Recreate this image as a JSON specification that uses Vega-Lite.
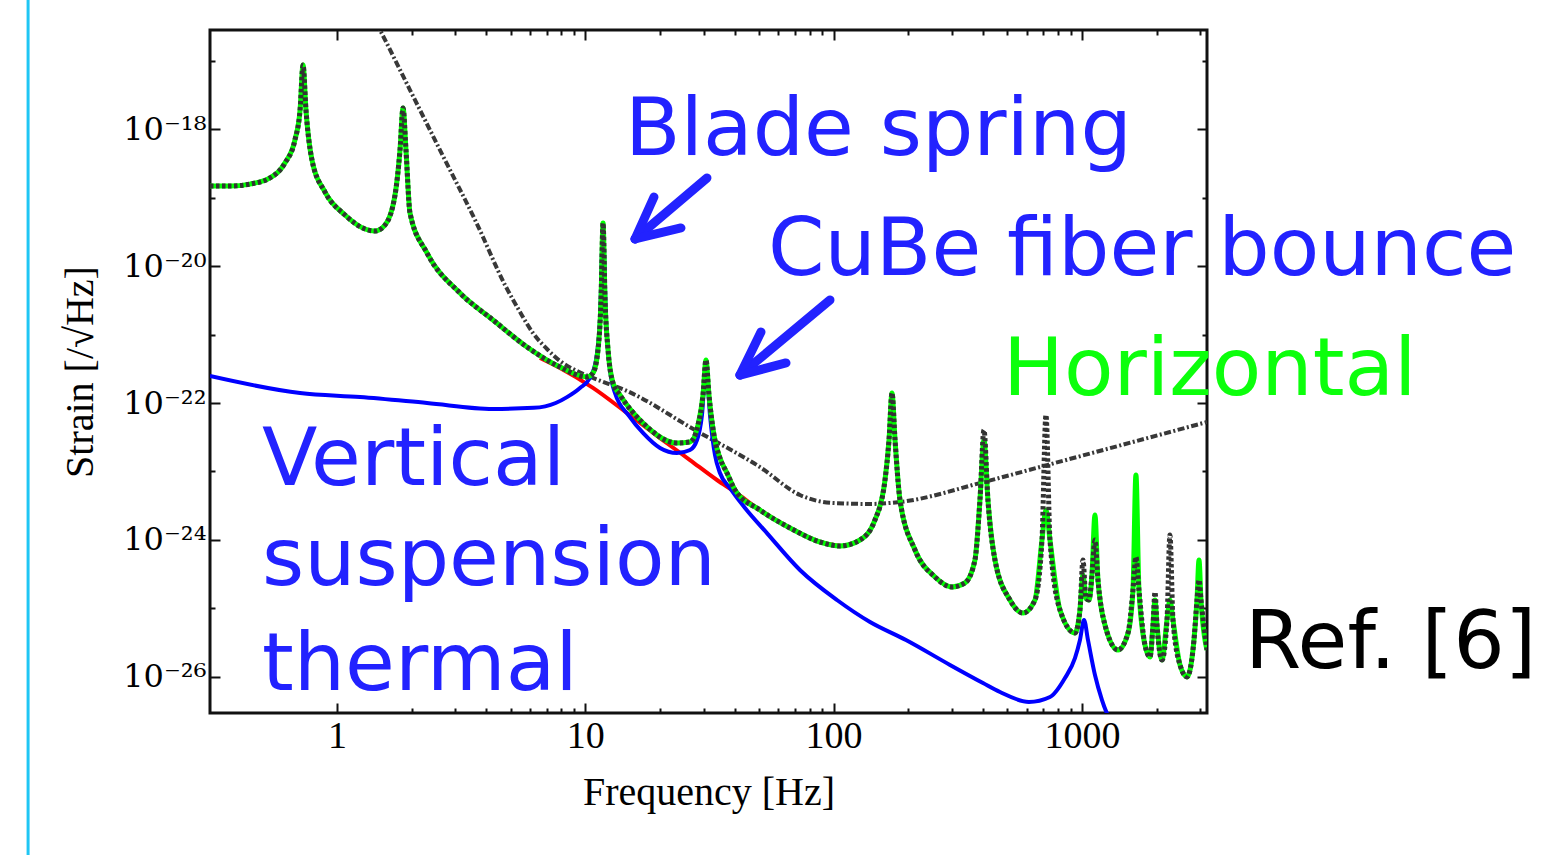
{
  "$schema": "https://vega.github.io/schema/vega-lite/v6.json",
  "width": 997,
  "height": 683,
  "autosize": {"type": "none"},
  "padding": {"left": 210, "top": 30, "right": 350, "bottom": 142},
  "background": "#ffffff",
  "config": {
    "view": {"stroke": "#111111", "strokeWidth": 3},
    "axis": {
      "domain": false,
      "grid": false,
      "tickColor": "#111111",
      "tickWidth": 2,
      "labelFont": "Liberation Serif",
      "labelFontSize": 38,
      "labelColor": "#000000",
      "titleFont": "Liberation Serif",
      "titleFontSize": 40,
      "titleFontWeight": "normal",
      "titleColor": "#000000",
      "labelOverlap": false,
      "labelFlush": false,
      "labelBound": false
    }
  },
  "resolve": {"axis": {"x": "independent", "y": "independent"}},
  "datasets": {
    "H": [
      {"f": 0.308, "g": 1.47e-19, "k": 1.47e-19},
      {"f": 0.371, "g": 1.47e-19, "k": 1.47e-19},
      {"f": 0.446, "g": 1.57e-19, "k": 1.57e-19},
      {"f": 0.537, "g": 1.93e-19, "k": 1.93e-19},
      {"f": 0.617, "g": 3.19e-19, "k": 3.19e-19},
      {"f": 0.677, "g": 6.91e-19, "k": 6.91e-19},
      {"f": 0.71, "g": 1.89e-18, "k": 1.89e-18},
      {"f": 0.73, "g": 8.6e-18, "k": 8.6e-18},
      {"f": 0.75, "g": 1.89e-18, "k": 1.89e-18},
      {"f": 0.793, "g": 3.53e-19, "k": 3.53e-19},
      {"f": 0.895, "g": 1.2e-19, "k": 1.2e-19},
      {"f": 1.077, "g": 5.55e-20, "k": 5.55e-20},
      {"f": 1.297, "g": 3.47e-20, "k": 3.47e-20},
      {"f": 1.422, "g": 3.24e-20, "k": 3.24e-20},
      {"f": 1.561, "g": 3.97e-20, "k": 3.97e-20},
      {"f": 1.713, "g": 1.09e-19, "k": 1.09e-19},
      {"f": 1.794, "g": 4.94e-19, "k": 4.94e-19},
      {"f": 1.845, "g": 2.03e-18, "k": 2.03e-18},
      {"f": 1.896, "g": 4.94e-19, "k": 4.94e-19},
      {"f": 1.968, "g": 5.94e-20, "k": 5.94e-20},
      {"f": 2.304, "g": 1.55e-20, "k": 1.55e-20},
      {"f": 3.129, "g": 4.03e-21, "k": 4.03e-21},
      {"f": 4.249, "g": 1.63e-21, "k": 1.63e-21},
      {"f": 5.824, "g": 6.57e-22, "k": 6.57e-22},
      {"f": 7.909, "g": 3.35e-22, "k": 3.35e-22},
      {"f": 10.16, "g": 2.4e-22, "k": 2.4e-22},
      {"f": 10.74, "g": 2.74e-22, "k": 2.74e-22},
      {"f": 11.25, "g": 5.94e-22, "k": 5.94e-22},
      {"f": 11.57, "g": 3.19e-21, "k": 3.19e-21},
      {"f": 11.79, "g": 4.24e-20, "k": 4.24e-20},
      {"f": 12.01, "g": 3.19e-21, "k": 3.19e-21},
      {"f": 12.35, "g": 5.94e-22, "k": 5.94e-22},
      {"f": 12.93, "g": 1.96e-22, "k": 1.96e-22},
      {"f": 13.8, "g": 1.31e-22, "k": 1.31e-22},
      {"f": 17.08, "g": 5.11e-23, "k": 5.11e-23},
      {"f": 23.4, "g": 2.61e-23, "k": 2.61e-23},
      {"f": 26.41, "g": 2.7e-23, "k": 2.7e-23},
      {"f": 28.44, "g": 4.77e-23, "k": 4.77e-23},
      {"f": 29.79, "g": 1.31e-22, "k": 1.31e-22},
      {"f": 30.63, "g": 4.24e-22, "k": 4.24e-22},
      {"f": 31.49, "g": 1.31e-22, "k": 1.31e-22},
      {"f": 32.98, "g": 3.41e-23, "k": 3.41e-23},
      {"f": 34.87, "g": 1.57e-23, "k": 1.57e-23},
      {"f": 37.22, "g": 9.51e-24, "k": 9.51e-24},
      {"f": 40.09, "g": 5.37e-24, "k": 5.37e-24},
      {"f": 50.53, "g": 2.74e-24, "k": 2.74e-24},
      {"f": 66.74, "g": 1.5e-24, "k": 1.5e-24},
      {"f": 88.15, "g": 9.35e-25, "k": 9.35e-25},
      {"f": 106.1, "g": 8.17e-25, "k": 8.17e-25},
      {"f": 127.8, "g": 1.0e-24, "k": 1.0e-24},
      {"f": 146.8, "g": 1.96e-24, "k": 1.96e-24},
      {"f": 161.1, "g": 7.51e-24, "k": 7.51e-24},
      {"f": 167.2, "g": 2.88e-23, "k": 2.88e-23},
      {"f": 171.9, "g": 1.4e-22, "k": 1.4e-22},
      {"f": 176.8, "g": 2.88e-23, "k": 2.88e-23},
      {"f": 185.1, "g": 3.84e-24, "k": 3.84e-24},
      {"f": 212.8, "g": 7.14e-25, "k": 7.14e-25},
      {"f": 256.1, "g": 2.88e-25, "k": 2.88e-25},
      {"f": 299.9, "g": 2.06e-25, "k": 2.06e-25},
      {"f": 338.1, "g": 2.36e-25, "k": 2.36e-25},
      {"f": 371.0, "g": 5.11e-25, "k": 5.11e-25},
      {"f": 388.6, "g": 3.84e-24, "k": 3.84e-24},
      {"f": 403.3, "g": 2.88e-23, "k": 4.03e-23},
      {"f": 418.5, "g": 3.84e-24, "k": 3.84e-24},
      {"f": 446.7, "g": 5.11e-25, "k": 5.11e-25},
      {"f": 513.3, "g": 1.33e-25, "k": 1.33e-25},
      {"f": 579.1, "g": 8.6e-26, "k": 8.6e-26},
      {"f": 647.4, "g": 1.33e-25, "k": 1.33e-25},
      {"f": 690.7, "g": 1.0e-24, "k": 1.0e-24},
      {"f": 716.8, "g": 2.74e-24, "k": 6.68e-23},
      {"f": 743.9, "g": 1.0e-24, "k": 1.0e-24},
      {"f": 816.3, "g": 9.51e-26, "k": 9.51e-26},
      {"f": 937.9, "g": 4.39e-26, "k": 4.39e-26},
      {"f": 982.4, "g": 9.51e-26, "k": 9.51e-26},
      {"f": 1010, "g": 3.08e-25, "k": 5.11e-25},
      {"f": 1039, "g": 1.4e-25, "k": 1.4e-25},
      {"f": 1068, "g": 1.33e-25, "k": 1.33e-25},
      {"f": 1098, "g": 3.08e-25, "k": 3.08e-25},
      {"f": 1129, "g": 2.32e-24, "k": 1.0e-24},
      {"f": 1161, "g": 2.61e-25, "k": 2.61e-25},
      {"f": 1239, "g": 5.74e-26, "k": 5.74e-26},
      {"f": 1398, "g": 2.48e-26, "k": 2.48e-26},
      {"f": 1534, "g": 4.39e-26, "k": 4.39e-26},
      {"f": 1606, "g": 1.86e-25, "k": 1.86e-25},
      {"f": 1651, "g": 8.89e-24, "k": 5.65e-25},
      {"f": 1698, "g": 1.86e-25, "k": 1.86e-25},
      {"f": 1795, "g": 2.93e-26, "k": 2.93e-26},
      {"f": 1881, "g": 1.96e-26, "k": 1.96e-26},
      {"f": 1934, "g": 5.74e-26, "k": 5.74e-26},
      {"f": 1970, "g": 1.33e-25, "k": 1.74e-25},
      {"f": 2007, "g": 5.74e-26, "k": 5.74e-26},
      {"f": 2102, "g": 1.77e-26, "k": 1.77e-26},
      {"f": 2202, "g": 6.79e-26, "k": 6.79e-26},
      {"f": 2263, "g": 1.33e-25, "k": 1.18e-24},
      {"f": 2328, "g": 6.79e-26, "k": 6.79e-26},
      {"f": 2484, "g": 1.5e-26, "k": 1.5e-26},
      {"f": 2651, "g": 1.0e-26, "k": 1.0e-26},
      {"f": 2828, "g": 3.47e-26, "k": 3.47e-26},
      {"f": 2908, "g": 1.33e-25, "k": 1.33e-25},
      {"f": 2963, "g": 5.11e-25, "k": 2.61e-25},
      {"f": 3018, "g": 1.33e-25, "k": 1.33e-25},
      {"f": 3191, "g": 2.48e-26, "k": 2.48e-26}
    ],
    "red": [
      {"f": 6.57, "h": 4.54e-22},
      {"f": 7.909, "h": 3.24e-22},
      {"f": 10.74, "h": 1.66e-22},
      {"f": 14.72, "h": 7.14e-23},
      {"f": 20.0, "h": 3.08e-23},
      {"f": 26.41, "h": 1.47e-23},
      {"f": 33.92, "h": 7.51e-24},
      {"f": 40.09, "h": 5.02e-24},
      {"f": 50.53, "h": 2.74e-24},
      {"f": 66.74, "h": 1.5e-24},
      {"f": 88.15, "h": 9.35e-25},
      {"f": 106.1, "h": 8.17e-25}
    ],
    "blue": [
      {"f": 0.308, "h": 2.48e-22},
      {"f": 0.71, "h": 1.4e-22},
      {"f": 1.238, "h": 1.22e-22},
      {"f": 2.304, "h": 1.0e-22},
      {"f": 4.249, "h": 8.2e-23},
      {"f": 6.2, "h": 8.5e-23},
      {"f": 7.6, "h": 1.0e-22},
      {"f": 8.44, "h": 1.22e-22},
      {"f": 9.52, "h": 1.66e-22},
      {"f": 10.44, "h": 2.32e-22},
      {"f": 11.04, "h": 4.24e-22},
      {"f": 11.46, "h": 1.63e-21},
      {"f": 11.79, "h": 3.36e-20},
      {"f": 12.12, "h": 1.63e-21},
      {"f": 12.58, "h": 3.03e-22},
      {"f": 13.17, "h": 1.4e-22},
      {"f": 15.0, "h": 6.5e-23},
      {"f": 17.08, "h": 3.65e-23},
      {"f": 20.0, "h": 2.2e-23},
      {"f": 23.4, "h": 1.86e-23},
      {"f": 26.41, "h": 2.06e-23},
      {"f": 28.18, "h": 2.88e-23},
      {"f": 29.51, "h": 6.68e-23},
      {"f": 30.63, "h": 3.59e-22},
      {"f": 31.78, "h": 6.68e-23},
      {"f": 33.29, "h": 1.74e-23},
      {"f": 34.87, "h": 9.51e-24},
      {"f": 38.26, "h": 5.74e-24},
      {"f": 43.98, "h": 2.93e-24},
      {"f": 53.9, "h": 1.26e-24},
      {"f": 73.2, "h": 3.65e-25},
      {"f": 103.2, "h": 1.33e-25},
      {"f": 140.2, "h": 6.35e-26},
      {"f": 195.7, "h": 3.47e-26},
      {"f": 294.3, "h": 1.5e-26},
      {"f": 399.6, "h": 8.17e-27},
      {"f": 468, "h": 6.04e-27},
      {"f": 612, "h": 4.32e-27},
      {"f": 743.9, "h": 5.11e-27},
      {"f": 855, "h": 9.67e-27},
      {"f": 937.9, "h": 1.89e-26},
      {"f": 982.4, "h": 3.47e-26},
      {"f": 1020, "h": 6.79e-26},
      {"f": 1058, "h": 3.47e-26},
      {"f": 1129, "h": 1.07e-26},
      {"f": 1205, "h": 4.61e-27},
      {"f": 1322, "h": 1.99e-27}
    ],
    "dd": [
      {"f": 1.358, "h": 5.28e-17},
      {"f": 1.49, "h": 2.79e-17},
      {"f": 1.968, "h": 3.71e-18},
      {"f": 2.673, "h": 4.03e-19},
      {"f": 3.664, "h": 4.1e-20},
      {"f": 4.75, "h": 5.28e-21},
      {"f": 5.46, "h": 2.13e-21},
      {"f": 6.158, "h": 1.05e-21},
      {"f": 7.01, "h": 6.14e-22},
      {"f": 7.909, "h": 4.1e-22},
      {"f": 9.26, "h": 2.93e-22},
      {"f": 10.74, "h": 2.32e-22},
      {"f": 14.72, "h": 1.5e-22},
      {"f": 27.66, "h": 4.03e-23},
      {"f": 50.53, "h": 1.16e-23},
      {"f": 73.2, "h": 4.54e-24},
      {"f": 99.45, "h": 3.47e-24},
      {"f": 140.2, "h": 3.36e-24},
      {"f": 185.1, "h": 3.59e-24},
      {"f": 403.3, "h": 7.03e-24},
      {"f": 723.6, "h": 1.24e-23},
      {"f": 3191, "h": 5.28e-23}
    ],
    "arrows": [
      {"f": 30.91, "h": 1.93e-19, "f2": 15.86, "h2": 2.48e-20},
      {"f": 18.91, "h": 1.017e-19, "f2": 15.86, "h2": 2.48e-20},
      {"f": 24.29, "h": 3.59e-20, "f2": 15.86, "h2": 2.48e-20},
      {"f": 96.7, "h": 3.19e-21, "f2": 41.98, "h2": 2.56e-22},
      {"f": 51.0, "h": 1.09e-21, "f2": 41.98, "h2": 2.56e-22},
      {"f": 64.3, "h": 3.84e-22, "f2": 41.98, "h2": 2.56e-22}
    ],
    "notes": [
      {"f": 14.45, "h": 4.17e-19, "t": "Blade spring", "c": "blue"},
      {"f": 54.4, "h": 7.39e-21, "t": "CuBe fiber bounce", "c": "blue"},
      {"f": 481.2, "h": 1.31e-22, "t": "Horizontal", "c": "green"},
      {"f": 0.4987, "h": 6.35e-24, "t": "Vertical", "c": "blue"},
      {"f": 0.4987, "h": 2.2e-25, "t": "suspension", "c": "blue"},
      {"f": 0.4987, "h": 6.46e-27, "t": "thermal", "c": "blue"},
      {"f": 4538, "h": 1.35e-26, "t": "Ref. [6]", "c": "black"}
    ],
    "slide": [
      {"f": 0.057, "h": 1e-16, "h2": 1e-29}
    ]
  },
  "layer": [
    {
      "data": {"name": "slide"},
      "mark": {"type": "rule", "clip": false, "color": "#1fc6f4", "strokeWidth": 3},
      "encoding": {
        "x": {"field": "f", "type": "quantitative", "scale": {"type": "log", "domain": [0.308, 3191], "nice": false}, "axis": null},
        "y": {"field": "h", "type": "quantitative", "scale": {"type": "log", "domain": [2.98e-27, 2.79e-17], "nice": false}, "axis": null},
        "y2": {"field": "h2"}
      }
    },
    {
      "data": {"name": "dd"},
      "mark": {"type": "line", "clip": true, "interpolate": "monotone", "color": "#383838", "strokeWidth": 4, "strokeDash": [7, 2.5, 2, 2.5]},
      "encoding": {
        "x": {
          "field": "f", "type": "quantitative",
          "scale": {"type": "log", "domain": [0.308, 3191], "nice": false},
          "axis": {
            "orient": "bottom",
            "title": "Frequency [Hz]",
            "titlePadding": 12,
            "values": [1, 2, 3, 4, 5, 6, 7, 8, 9, 10, 20, 30, 40, 50, 60, 70, 80, 90, 100, 200, 300, 400, 500, 600, 700, 800, 900, 1000, 2000, 3000],
            "labelExpr": "(datum.value == 1 || datum.value == 10 || datum.value == 100 || datum.value == 1000) ? format(datum.value, 'd') : ''",
            "tickSize": {"condition": {"test": "datum.value == 1 || datum.value == 10 || datum.value == 100 || datum.value == 1000", "value": -10}, "value": -5},
            "labelPadding": 14
          }
        },
        "y": {
          "field": "h", "type": "quantitative",
          "scale": {"type": "log", "domain": [2.98e-27, 2.79e-17], "nice": false},
          "axis": {
            "orient": "left",
            "title": "Strain [/√Hz]",
            "titlePadding": 22,
            "labelFont": "DejaVu Serif",
            "labelFontSize": 32,
            "values": [1e-17, 1e-18, 1e-19, 1e-20, 1e-21, 1e-22, 1e-23, 1e-24, 1e-25, 1e-26],
            "labelExpr": "round(log(datum.value)/LN10) == -18 ? '10⁻¹⁸' : round(log(datum.value)/LN10) == -20 ? '10⁻²⁰' : round(log(datum.value)/LN10) == -22 ? '10⁻²²' : round(log(datum.value)/LN10) == -24 ? '10⁻²⁴' : round(log(datum.value)/LN10) == -26 ? '10⁻²⁶' : ''",
            "tickSize": {"condition": {"test": "round(log(datum.value)/LN10) % 2 == 0", "value": -10}, "value": -5},
            "labelPadding": 14
          }
        }
      }
    },
    {
      "data": {"name": "red"},
      "mark": {"type": "line", "clip": true, "interpolate": "monotone", "color": "#ff0000", "strokeWidth": 4},
      "encoding": {
        "x": {
          "field": "f", "type": "quantitative",
          "scale": {"type": "log", "domain": [0.308, 3191], "nice": false},
          "axis": {
            "orient": "top", "title": null, "labels": false,
            "values": [1, 2, 3, 4, 5, 6, 7, 8, 9, 10, 20, 30, 40, 50, 60, 70, 80, 90, 100, 200, 300, 400, 500, 600, 700, 800, 900, 1000, 2000, 3000],
            "tickSize": {"condition": {"test": "datum.value == 1 || datum.value == 10 || datum.value == 100 || datum.value == 1000", "value": -10}, "value": -5}
          }
        },
        "y": {
          "field": "h", "type": "quantitative",
          "scale": {"type": "log", "domain": [2.98e-27, 2.79e-17], "nice": false},
          "axis": {
            "orient": "right", "title": null, "labels": false,
            "values": [1e-17, 1e-18, 1e-19, 1e-20, 1e-21, 1e-22, 1e-23, 1e-24, 1e-25, 1e-26],
            "tickSize": {"condition": {"test": "round(log(datum.value)/LN10) % 2 == 0", "value": -10}, "value": -5}
          }
        }
      }
    },
    {
      "data": {"name": "blue"},
      "mark": {"type": "line", "clip": true, "interpolate": "monotone", "color": "#0000ff", "strokeWidth": 4},
      "encoding": {
        "x": {"field": "f", "type": "quantitative", "scale": {"type": "log", "domain": [0.308, 3191], "nice": false}, "axis": null},
        "y": {"field": "h", "type": "quantitative", "scale": {"type": "log", "domain": [2.98e-27, 2.79e-17], "nice": false}, "axis": null}
      }
    },
    {
      "data": {"name": "H"},
      "mark": {"type": "line", "clip": true, "interpolate": "monotone", "color": "#00ff00", "strokeWidth": 5},
      "encoding": {
        "x": {"field": "f", "type": "quantitative", "scale": {"type": "log", "domain": [0.308, 3191], "nice": false}, "axis": null},
        "y": {"field": "g", "type": "quantitative", "scale": {"type": "log", "domain": [2.98e-27, 2.79e-17], "nice": false}, "axis": null}
      }
    },
    {
      "data": {"name": "H"},
      "mark": {"type": "line", "clip": true, "interpolate": "monotone", "color": "#333333", "strokeWidth": 5, "strokeDash": [3.5, 2.5]},
      "encoding": {
        "x": {"field": "f", "type": "quantitative", "scale": {"type": "log", "domain": [0.308, 3191], "nice": false}, "axis": null},
        "y": {"field": "k", "type": "quantitative", "scale": {"type": "log", "domain": [2.98e-27, 2.79e-17], "nice": false}, "axis": null}
      }
    },
    {
      "data": {"name": "arrows"},
      "mark": {"type": "rule", "clip": false, "color": "#2222ff", "strokeWidth": 9, "strokeCap": "round"},
      "encoding": {
        "x": {"field": "f", "type": "quantitative", "scale": {"type": "log", "domain": [0.308, 3191], "nice": false}, "axis": null},
        "y": {"field": "h", "type": "quantitative", "scale": {"type": "log", "domain": [2.98e-27, 2.79e-17], "nice": false}, "axis": null},
        "x2": {"field": "f2"},
        "y2": {"field": "h2"}
      }
    },
    {
      "data": {"name": "notes"},
      "mark": {"type": "text", "clip": false, "font": "DejaVu Sans", "fontSize": 81, "align": "left", "baseline": "alphabetic"},
      "encoding": {
        "x": {"field": "f", "type": "quantitative", "scale": {"type": "log", "domain": [0.308, 3191], "nice": false}, "axis": null},
        "y": {"field": "h", "type": "quantitative", "scale": {"type": "log", "domain": [2.98e-27, 2.79e-17], "nice": false}, "axis": null},
        "text": {"field": "t"},
        "color": {"field": "c", "type": "nominal", "scale": {"domain": ["blue", "green", "black"], "range": ["#2222ff", "#0cff0c", "#000000"]}, "legend": null}
      }
    }
  ]
}
